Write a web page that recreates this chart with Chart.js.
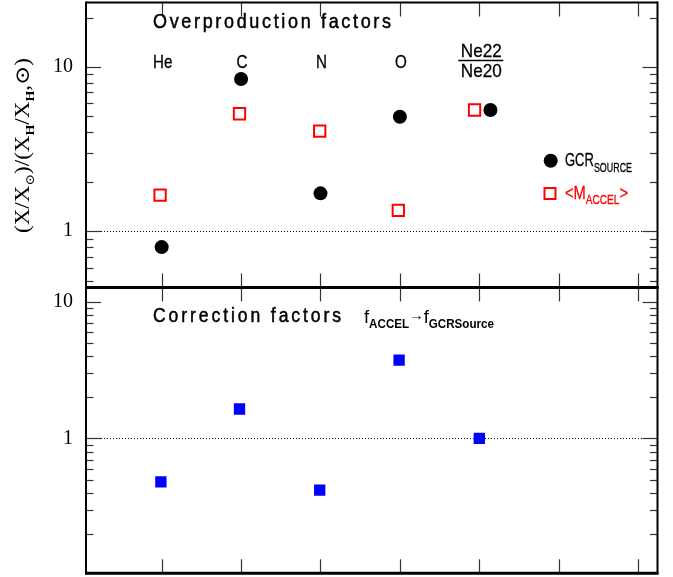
<!DOCTYPE html>
<html><head><meta charset="utf-8">
<script src="https://cdn.jsdelivr.net/npm/chart.js@4.4.1/dist/chart.umd.min.js"></script>
<style>
html,body{margin:0;padding:0;background:#fff;}
#wrap{position:relative;width:673px;height:577px;overflow:hidden;background:#fff;}
#wrap canvas{position:absolute;left:0;}
#c1{top:0;} #c2{top:287px;}
</style></head><body>
<div id="wrap">
<canvas id="c1" width="673" height="290"></canvas>
<canvas id="c2" width="673" height="290"></canvas>
</div>
<script>
// ---------- data ----------
const categories = ['He', 'C', 'N', 'O', 'Ne22/Ne20'];
const categoryX = [1, 2, 3, 4, 5];
const gcrSourceX = [1.0, 2.0, 3.0, 4.0, 5.14];
const gcrSource = [0.80, 8.45, 1.70, 4.98, 5.47];
const mAccelX = [0.98, 1.98, 2.99, 3.98, 4.94];
const mAccel = [1.66, 5.19, 4.07, 1.34, 5.47];
const correctionX = [0.99, 1.98, 2.99, 3.99, 5.0];
const correction = [0.48, 1.64, 0.418, 3.74, 1.00];
const xTicks = [1, 2, 3, 4, 5, 6, 7];
const yLabelValues = [1, 10];

const SANS = '"Liberation Sans", Arial, sans-serif';
const SERIF = '"Liberation Serif", "DejaVu Serif", serif';

function pts(xs, ys) { return xs.map((x, i) => ({ x: x, y: ys[i] })); }

function drawRich(ctx, parts, x, y, opts) {
  ctx.save();
  ctx.fillStyle = opts.color || '#000';
  ctx.strokeStyle = opts.color || '#000';
  ctx.lineWidth = opts.stroke || 0;
  ctx.textBaseline = 'alphabetic';
  ctx.textAlign = 'left';
  const fam = opts.family || SANS;
  let total = 0;
  const ws = parts.map(p => {
    ctx.font = (p.weight || 'normal') + ' ' + p.size + 'px ' + fam;
    const w = ctx.measureText(p.t).width; total += w; return w;
  });
  const sx = opts.width ? opts.width / total : (opts.sx || 1);
  const x0 = opts.align === 'center' ? x - total * sx / 2 : x;
  ctx.translate(x0, y);
  ctx.scale(sx, 1);
  let cx = 0;
  parts.forEach((p, i) => {
    ctx.font = (p.weight || 'normal') + ' ' + p.size + 'px ' + fam;
    ctx.fillText(p.t, cx, p.dy || 0);
    if (opts.stroke) ctx.strokeText(p.t, cx, p.dy || 0);
    cx += ws[i];
  });
  ctx.restore();
}

function drawSpaced(ctx, text, x, y, width, size, sx) {
  ctx.save();
  ctx.fillStyle = '#000';
  ctx.strokeStyle = '#000';
  ctx.lineWidth = 0.5;
  ctx.font = size + 'px ' + SANS;
  ctx.textAlign = 'left';
  ctx.textBaseline = 'alphabetic';
  const chars = text.split('');
  const ws = chars.map(c => ctx.measureText(c).width * sx);
  const sum = ws.reduce((a, b) => a + b, 0);
  const sp = (width - sum) / (chars.length - 1);
  let cx = x;
  chars.forEach((c, i) => {
    ctx.save(); ctx.translate(cx, y); ctx.scale(sx, 1);
    ctx.fillText(c, 0, 0); ctx.strokeText(c, 0, 0);
    ctx.restore();
    cx += ws[i] + sp;
  });
  ctx.restore();
}

function line(ctx, x1, y1, x2, y2) { ctx.beginPath(); ctx.moveTo(x1, y1); ctx.lineTo(x2, y2); ctx.stroke(); }

function framePlugin(name, texts) {
  return {
    id: 'frame' + name,
    beforeDatasetsDraw(chart) {
      const { ctx, chartArea: a, scales: { y } } = chart;
      ctx.save();
      ctx.strokeStyle = '#000';
      ctx.lineWidth = 1;
      ctx.setLineDash([1, 2]);
      const py = Math.round(y.getPixelForValue(1)) + 0.5;
      line(ctx, a.left, py, a.right, py);
      ctx.restore();
    },
    afterDraw(chart) {
      const { ctx, chartArea: a, scales: { x, y } } = chart;
      ctx.save();
      ctx.strokeStyle = '#333';
      ctx.lineWidth = 1.2;
      xTicks.forEach(v => {
        const px = Math.round(x.getPixelForValue(v)) + 0.5;
        line(ctx, px, a.top, px, a.top + 14);
        line(ctx, px, a.bottom, px, a.bottom - 14);
      });
      [0.1, 1, 10].forEach(d => {
        for (let m = 1; m <= 9; m++) {
          const v = m * d;
          if (v < y.min || v > y.max) continue;
          const py = Math.round(y.getPixelForValue(v)) + 0.5;
          const len = m === 1 ? 15 : 7.5;
          line(ctx, a.left, py, a.left + len, py);
          line(ctx, a.right, py, a.right - len, py);
        }
      });
      // frame
      ctx.strokeStyle = '#000';
      ctx.lineWidth = 2;
      line(ctx, a.left, a.top, a.right, a.top);
      line(ctx, a.left, a.top - 1, a.left, a.bottom + 1);
      line(ctx, a.right, a.top - 1, a.right, a.bottom + 1);
      ctx.lineWidth = 3;
      line(ctx, a.left - 1, a.bottom, a.right + 1, a.bottom);
      if (name === 'bot') line(ctx, a.left - 1, a.top, a.right + 1, a.top);
      texts(ctx, chart);
      ctx.restore();
    }
  };
}

function yScale(min, max) {
  return {
    type: 'logarithmic', min: min, max: max,
    grid: { display: false, drawTicks: false },
    border: { display: false },
    ticks: {
      autoSkip: false, color: '#000', padding: 13,
      font: { family: SERIF, size: 20 },
      callback: v => yLabelValues.some(t => Math.abs(v - t) < 1e-9) ? String(Math.round(v)) : ''
    },
    afterFit: s => { s.width = 86; s.paddingTop = 0; s.paddingBottom = 0; }
  };
}
const xScale = { type: 'linear', min: 0.047, max: 7.244, display: false };

// ---------- top chart ----------
new Chart(document.getElementById('c1'), {
  type: 'scatter',
  data: {
    datasets: [
      { label: 'GCR_SOURCE', data: pts(gcrSourceX, gcrSource), pointStyle: 'circle', pointRadius: 7,
        backgroundColor: '#000', borderColor: '#000', borderWidth: 0 },
      { label: '<M_ACCEL>', data: pts(mAccelX, mAccel), pointStyle: 'rect', pointRadius: 8,
        backgroundColor: 'rgba(255,255,255,0)', borderColor: '#ff0000', borderWidth: 2 }
    ]
  },
  options: {
    responsive: false, animation: false, events: [],
    layout: { autoPadding: false, padding: { left: 0, right: 15.5, top: 2.5, bottom: 2.5 } },
    plugins: { legend: { display: false }, tooltip: { enabled: false } },
    scales: { x: xScale, y: yScale(0.454, 24.7) }
  },
  plugins: [framePlugin('top', (ctx, chart) => {
    const x = chart.scales.x;
    drawSpaced(ctx, 'Overproduction factors', 153, 27.7, 238, 20, 0.9);
    categories.forEach((c, i) => {
      const px = x.getPixelForValue(categoryX[i]) + 1;
      if (c.indexOf('/') >= 0) {
        const [a, b] = c.split('/');
        drawRich(ctx, [{ t: a, size: 19 }], px + 1, 57, { align: 'center', width: 41, stroke: 0.3 });
        ctx.strokeStyle = '#000'; ctx.lineWidth = 1.3;
        line(ctx, px - 22, 60.5, px + 23, 60.5);
        drawRich(ctx, [{ t: b, size: 19 }], px + 1, 76.5, { align: 'center', width: 41, stroke: 0.3 });
      } else {
        drawRich(ctx, [{ t: c, size: 19 }], px, 68, { align: 'center', sx: 0.8, stroke: 0.3 });
      }
    });
    // legend
    ctx.fillStyle = '#000';
    ctx.beginPath(); ctx.arc(550.7, 160.7, 7, 0, Math.PI * 2); ctx.fill();
    drawRich(ctx, [{ t: 'GCR', size: 19 }, { t: 'SOURCE', size: 13, dy: 6 }], 565, 166, { width: 67, stroke: 0.3 });
    ctx.strokeStyle = '#ff0000'; ctx.lineWidth = 2;
    ctx.strokeRect(544.5, 188, 11, 11);
    drawRich(ctx, [{ t: '<', size: 19 }, { t: 'M', size: 19 }, { t: 'ACCEL', size: 13, dy: 5.5 }, { t: '>', size: 19 }],
      565, 198.5, { width: 63, color: '#ff0000', stroke: 0.3 });
    // y title
    ctx.save();
    ctx.translate(29, 145.5);
    ctx.rotate(-Math.PI / 2);
    drawRich(ctx, [
      { t: '(X/X', size: 20 }, { t: '\u2299', size: 12, dy: 5 }, { t: ')/(X', size: 20 },
      { t: 'H', size: 12, weight: 'bold', dy: 5 }, { t: '/X', size: 20 },
      { t: 'H', size: 12, weight: 'bold', dy: 5 }, { t: ',\u2299)', size: 20 }
    ], 0, 0, { align: 'center', width: 175, family: SERIF });
    ctx.restore();
  })]
});

// ---------- bottom chart ----------
const OFF = 287;
new Chart(document.getElementById('c2'), {
  type: 'scatter',
  data: {
    datasets: [
      { label: 'Correction factors', data: pts(correctionX, correction), pointStyle: 'rect', pointRadius: 8,
        backgroundColor: '#0000ff', borderColor: '#0000ff', borderWidth: 0 }
    ]
  },
  options: {
    responsive: false, animation: false, events: [],
    layout: { autoPadding: false, padding: { left: 0, right: 15.5, top: 0.5, bottom: 3.7 } },
    plugins: { legend: { display: false }, tooltip: { enabled: false } },
    scales: { x: xScale, y: yScale(0.103, 12.7) }
  },
  plugins: [framePlugin('bot', (ctx) => {
    drawSpaced(ctx, 'Correction factors', 153, 322 - OFF, 188, 19.5, 0.9);
    drawRich(ctx, [
      { t: 'f', size: 19 }, { t: 'ACCEL', size: 12, weight: 'bold', dy: 5 },
      { t: '\u2192', size: 15, dy: -3 }, { t: 'f', size: 19 },
      { t: 'GCRSource', size: 12, weight: 'bold', dy: 5 }
    ], 364, 323 - OFF, { width: 130 });
  })]
});
</script>
</body></html>
